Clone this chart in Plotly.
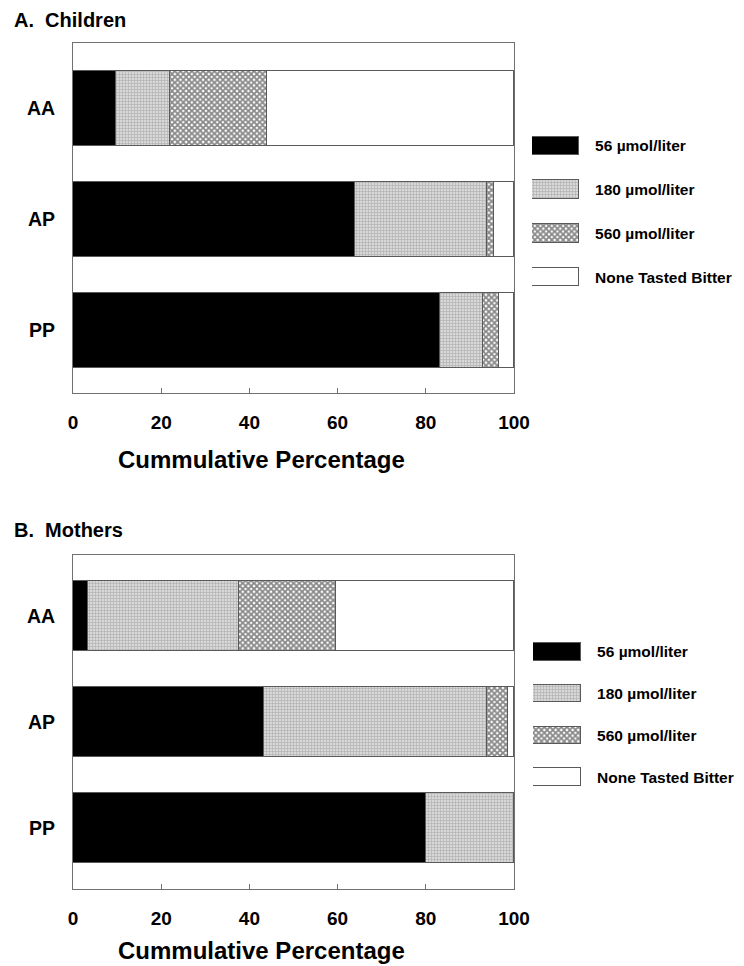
import plotly.graph_objects as go

# The page body adds an 8px margin; size and place everything to compensate
OFF = 8
W, H = 744 - OFF, 966 - OFF

genotypes = ["AA", "AP", "PP"]
levels = ["56 µmol/liter", "180 µmol/liter", "560 µmol/liter", "None Tasted Bitter"]

# Percentages of each group first tasting bitterness at each concentration
children_56 = [9.8, 64.0, 83.3]
children_180 = [12.2, 29.8, 9.7]
children_560 = [22.0, 1.7, 3.5]
children_none = [56.0, 4.5, 3.5]

mothers_56 = [3.4, 43.3, 80.1]
mothers_180 = [34.2, 50.5, 19.9]
mothers_560 = [22.1, 4.8, 0.0]
mothers_none = [40.3, 1.4, 0.0]

x_ticks = [0, 20, 40, 60, 80, 100]
panel_titles = ["A.\u00a0\u00a0Children", "B.\u00a0\u00a0Mothers"]
x_title = "Cummulative Percentage"
legend_key_length = 1  # unit-length legend keys

FONT = "Liberation Sans, Arial, Helvetica, sans-serif"
EDGE = "#5a5a5a"

styles = [
    dict(color="black", pattern=dict(shape="")),
    dict(color="#cccccc", pattern=dict(shape="+", size=3, solidity=0.4,
                                       fgcolor="#8a8a8a", bgcolor="#d8d8d8")),
    dict(color="#777777", pattern=dict(shape="x", size=4, solidity=0.7,
                                       fgcolor="#111111", bgcolor="#ffffff")),
    dict(color="white", pattern=dict(shape="")),
]

def px_x(p):
    return (p - OFF) / W

def px_y(p):
    return 1 - (p - OFF) / H

fig = go.Figure()

panels = [
    ([children_56, children_180, children_560, children_none], "x", "y", 0.676),
    ([mothers_56, mothers_180, mothers_560, mothers_none], "x2", "y2", 0.66),
]
for series, xa, ya, bw in panels:
    for vals, st, name in zip(series, styles, levels):
        fig.add_trace(go.Bar(
            y=genotypes, x=vals, orientation="h", name=name, width=bw,
            marker=dict(color=st["color"], pattern=st["pattern"],
                        line=dict(color=EDGE, width=1)),
            xaxis=xa, yaxis=ya, showlegend=False, hoverinfo="x+y+name"))

# legend keys drawn as bars on their own small axes
for xa, ya in [("x3", "y3"), ("x4", "y4")]:
    for st, name in zip(styles, levels):
        fig.add_trace(go.Bar(
            y=[name], x=[legend_key_length], orientation="h", width=0.42,
            marker=dict(color=st["color"], pattern=st["pattern"],
                        line=dict(color=EDGE, width=1)),
            xaxis=xa, yaxis=ya, showlegend=False, hoverinfo="skip"))

frame = dict(showline=True, mirror=True, linecolor="#707070", linewidth=1,
             showgrid=False, zeroline=False, automargin=False)

xcommon = dict(range=[0, 100], tickvals=x_ticks, ticks="inside", ticklen=5,
               tickcolor="#707070", ticklabelstandoff=12,
               tickfont=dict(family=FONT, size=19, color="black", weight="bold"),
               **frame)
ycommon = dict(type="category", categoryorder="array",
               categoryarray=genotypes[::-1], ticks="", ticklabelstandoff=13,
               tickfont=dict(family=FONT, size=19.5, color="black", weight="bold"),
               **frame)

leg_x = dict(range=[0, 1], visible=False, fixedrange=True, automargin=False)
leg_y = dict(type="category", categoryorder="array", categoryarray=levels[::-1],
             range=[-0.5, 3.5], side="right", showline=False, showgrid=False,
             zeroline=False, ticks="outside", ticklen=12, automargin=False,
             tickcolor="rgba(0,0,0,0)",
             tickfont=dict(family=FONT, size=15.5, color="black", weight="bold"))

fig.update_layout(
    width=W, height=H, barmode="stack", bargap=0,
    paper_bgcolor="white", plot_bgcolor="white",
    margin=dict(l=0, r=0, t=0, b=0, autoexpand=False),
    showlegend=False,
    xaxis=dict(domain=[px_x(73), px_x(514)], anchor="y", **xcommon),
    yaxis=dict(domain=[px_y(393), px_y(43)], anchor="x",
               range=[-0.568, 2.59], **ycommon),
    xaxis2=dict(domain=[px_x(73), px_x(514)], anchor="y2", **xcommon),
    yaxis2=dict(domain=[px_y(889), px_y(555)], anchor="x2",
                range=[-0.575, 2.575], **ycommon),
    xaxis3=dict(domain=[px_x(532), px_x(579)], anchor="y3", **leg_x),
    yaxis3=dict(domain=[px_y(299), px_y(124)], anchor="x3", **leg_y),
    xaxis4=dict(domain=[px_x(533), px_x(581)], anchor="y4", **leg_x),
    yaxis4=dict(domain=[px_y(798), px_y(631)], anchor="x4", **leg_y),
)

annotations = [
    dict(text=panel_titles[0], x=px_x(12), y=px_y(20), xanchor="left",
         yanchor="middle", font=dict(size=20)),
    dict(text=panel_titles[1], x=px_x(12), y=px_y(530), xanchor="left",
         yanchor="middle", font=dict(size=20)),
    dict(text=x_title, x=px_x(262), y=px_y(459), xanchor="center",
         yanchor="middle", font=dict(size=24)),
    dict(text=x_title, x=px_x(262), y=px_y(950), xanchor="center",
         yanchor="middle", font=dict(size=24)),
]
for a in annotations:
    a.update(xref="paper", yref="paper", showarrow=False)
    a["font"].update(family=FONT, color="black", weight="bold")
fig.update_layout(annotations=annotations)

fig.write_html("out.html")
